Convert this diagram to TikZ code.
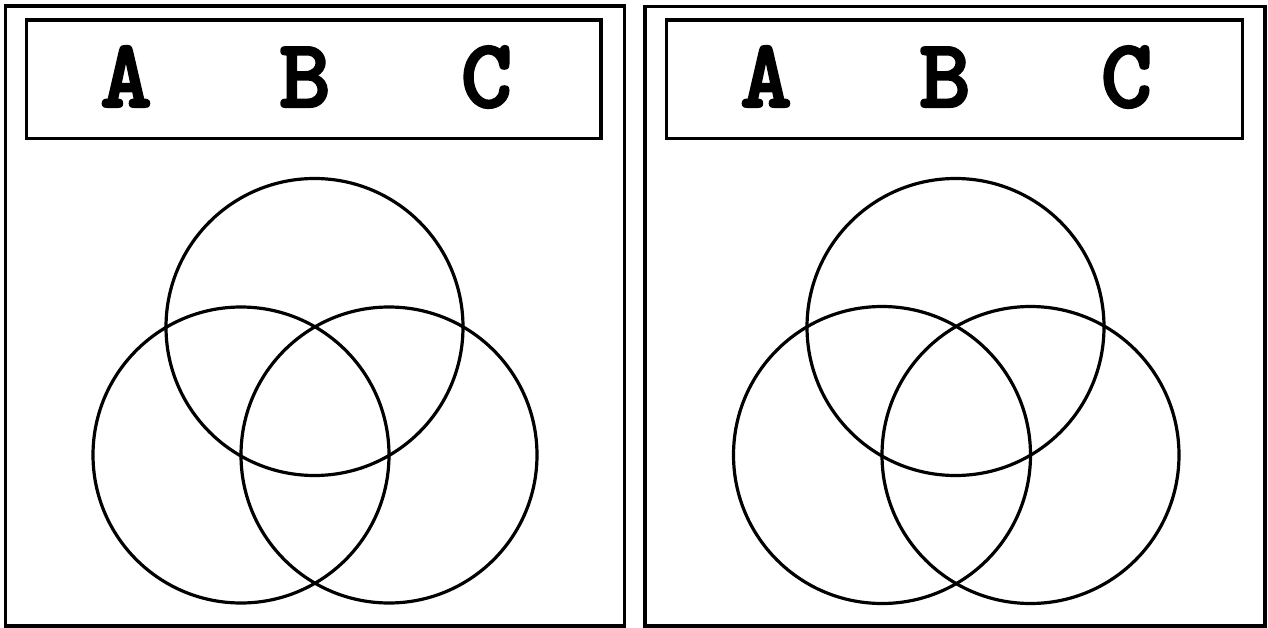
\documentclass[tikz,border=0pt]{standalone}
\usepackage{fontspec}
\newcommand{\heavytext}[1]{\special{pdf:literal direct 2 Tr 2.2 w 1 j}#1\special{pdf:literal direct 0 Tr}}
\begin{document}
\begin{tikzpicture}[x=1pt,y=-1pt,
  frame/.style={draw=black,line width=3.2pt},
  venn/.style={draw=black,line width=3.2pt},
  letter/.style={font=\ttfamily\bfseries\fontsize{98}{98}\selectfont,inner sep=0pt,anchor=base}]
\useasboundingbox (0,0) rectangle (1268,628);
% left panel
\draw[frame] (5.5,6) rectangle (624.5,626) coordinate (lp);
\node[frame,minimum width=574.5pt,minimum height=118.5pt,inner sep=0pt] (lhead) at (313.75,79.25) {};
\node[letter] (la) at (126,107) {\heavytext{A}};
\node[letter] (lb) at (305,107) {\heavytext{B}};
\node[letter] (lc) at (486.5,107) {\heavytext{C}};
\draw[venn] (314.5,327) circle (148.5);
\draw[venn] (241,455) circle (148);
\draw[venn] (389,455) circle (148);
% right panel
\draw[frame] (645,6.5) rectangle (1265,626) coordinate (rp);
\node[frame,minimum width=576pt,minimum height=118.5pt,inner sep=0pt] (rhead) at (954.5,79.25) {};
\node[letter] (ra) at (766,107) {\heavytext{A}};
\node[letter] (rb) at (945,107) {\heavytext{B}};
\node[letter] (rc) at (1126.5,107) {\heavytext{C}};
\draw[venn] (955.5,327) circle (148.5);
\draw[venn] (882,455) circle (148.5);
\draw[venn] (1030.5,455) circle (148.5);
\end{tikzpicture}
\end{document}
